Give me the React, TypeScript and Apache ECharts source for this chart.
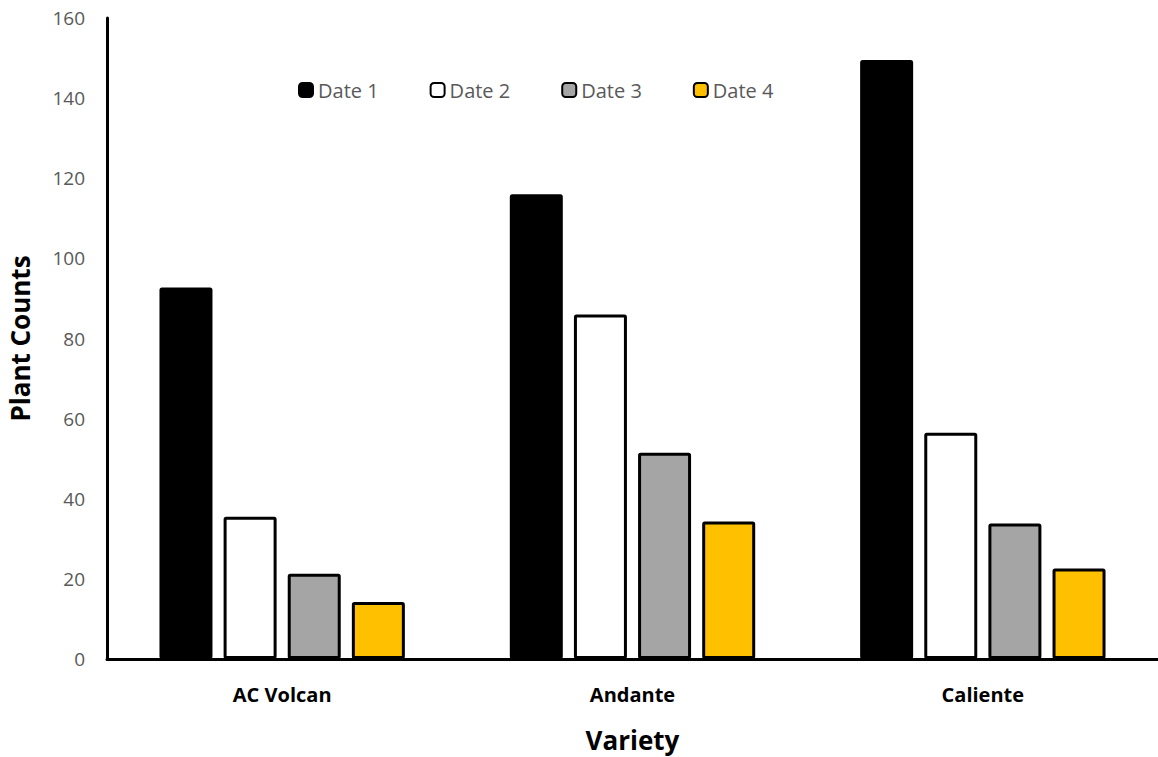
import React, { useEffect, useRef } from "react";
import * as echarts from "echarts";

const categories = ["AC Volcan", "Andante", "Caliente"];
const seriesNames = ["Date 1", "Date 2", "Date 3", "Date 4"];
const date1 = [92.7, 116, 149.5];
const date2 = [35.5, 86, 56.5];
const date3 = [21.3, 51.5, 33.8];
const date4 = [14.2, 34.3, 22.6];
const seriesColors = ["#000000", "#FFFFFF", "#A5A5A5", "#FFC000"];

export default function App() {
  const ref = useRef<HTMLDivElement>(null);
  useEffect(() => {
    if (!ref.current) return;
    const chart = echarts.init(ref.current, null, { renderer: "svg" });
    const font = "'Open Sans', 'Liberation Sans', sans-serif";
    const values = [date1, date2, date3, date4];
    chart.setOption({
      animation: false,
      backgroundColor: "#ffffff",
      textStyle: { fontFamily: font },
      grid: { left: 107, right: 0, top: 18, bottom: 98, outerBoundsMode: "none", containLabel: false },
      legend: {
        left: 293,
        top: 75,
        itemWidth: 14,
        itemHeight: 14,
        itemGap: 51,
        textStyle: { color: "#595959", fontSize: 20, fontFamily: font },
        data: seriesNames,
      },
      xAxis: {
        type: "category",
        data: categories,
        name: "Variety",
        nameLocation: "middle",
        nameGap: 68,
        nameTextStyle: { fontSize: 26, fontWeight: "bold", color: "#000", fontFamily: font },
        axisLine: { lineStyle: { color: "#000", width: 3 } },
        axisTick: { show: false },
        axisLabel: { fontSize: 20, fontWeight: "bold", color: "#000", margin: 25, fontFamily: font },
      },
      yAxis: {
        type: "value",
        min: 0,
        max: 160,
        interval: 20,
        name: "Plant Counts",
        nameLocation: "middle",
        nameGap: 74,
        nameTextStyle: { fontSize: 26, fontWeight: "bold", color: "#000", fontFamily: font },
        axisLine: { show: true, lineStyle: { color: "#000", width: 3 } },
        axisTick: { show: false },
        splitLine: { show: false },
        axisLabel: { fontSize: 19, color: "#595959", margin: 22, fontFamily: font },
      },
      series: seriesNames.map((name, i) => ({
        name,
        type: "bar",
        data: values[i],
        barWidth: 53,
        barGap: "21%",
        itemStyle: {
          color: seriesColors[i],
          borderColor: "#000",
          borderWidth: 3,
          borderRadius: 1,
        },
      })),
    });
    return () => chart.dispose();
  }, []);
  return (
    <div
      ref={ref}
      style={{ position: "fixed", left: 0, top: 0, width: 1158, height: 757 }}
    />
  );
}
